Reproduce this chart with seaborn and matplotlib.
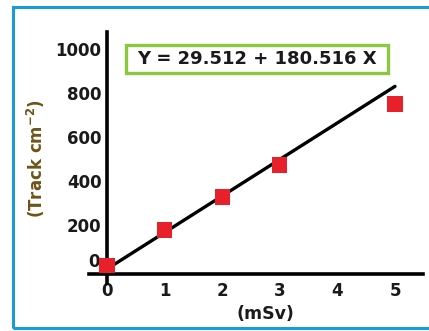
import matplotlib
matplotlib.use("Agg")
import matplotlib.pyplot as plt
import matplotlib.transforms as mtransforms
import seaborn as sns
import pandas as pd
from matplotlib.patches import Rectangle

# data
dose = [0, 1, 2, 3, 5]
tracks = [15, 177, 327, 473, 750]
line_x = [0, 5]
line_y = [0, 830]
yticks = [0, 200, 400, 600, 800, 1000]
xticks = [0, 1, 2, 3, 4, 5]
equation = "Y = 29.512 + 180.516 X"

sns.set_theme(style="white")
plt.rcParams['font.family'] = ['DejaVu Sans']

W, H = 429, 331
fig = plt.figure(figsize=(W / 100, H / 100), dpi=100)
fig.patch.set_facecolor("white")

# blue frame (right side lies outside the picture)
fig.patches.append(Rectangle((13 / W, 3 / H), 1.5, (H - 10) / H, transform=fig.transFigure,
                             fill=False, edgecolor="#1b9ad8", linewidth=2.2))

ax = fig.add_axes([89 / W, (H - 283) / H, (423 - 89) / W, (283 - 32) / H])
ax.set_facecolor("none")

pts = pd.DataFrame({"dose": dose, "tracks": tracks})
fit = pd.DataFrame({"x": line_x, "y": line_y})
sns.lineplot(data=fit, x="x", y="y", ax=ax, color="black", linewidth=2.4)
sns.scatterplot(data=pts, x="dose", y="tracks", ax=ax, marker="s", s=120,
                color="#e8202a", edgecolor="none", zorder=5, clip_on=False)

ax.set_xlim(-0.3125, 5.486)
ax.set_ylim(-63.6, 1077)
for s in ["top", "right"]:
    ax.spines[s].set_visible(False)
ax.spines["left"].set_position(("data", 0))
ax.spines["bottom"].set_position(("data", -22.7))
for s in ["left", "bottom"]:
    ax.spines[s].set_linewidth(2.6)
    ax.spines[s].set_color("black")

ax.set_xticks(xticks)
ax.set_yticks(yticks)
ax.set_xticklabels([str(v) for v in xticks], fontsize=12, fontweight="bold", color="#1a1a1a")
ax.set_yticklabels([str(v) for v in yticks], fontsize=12, fontweight="bold", color="#1a1a1a")
ax.tick_params(axis="x", length=0, pad=6)
ax.tick_params(axis="y", length=0, pad=4)
# the "0" label sits a little above its tick in the reference
zero_lbl = ax.get_yticklabels()[0]
zero_lbl.set_transform(zero_lbl.get_transform() +
                       mtransforms.ScaledTranslation(-2 / 100, 9 / 100, fig.dpi_scale_trans))

ax.set_xlabel("(mSv)", fontsize=12.5, fontweight="bold", color="#1a1a1a")
ax.xaxis.set_label_coords(0.527, -0.086)
ax.set_ylabel("(Track cm$^{\\mathbf{-2}}$)", fontsize=12, fontweight="bold", color="#6e5418")
ax.yaxis.set_label_coords(-0.125, 0.494)

ax.add_patch(Rectangle((0.111, 0.837), 0.895 - 0.111, 0.948 - 0.837, transform=ax.transAxes,
                       facecolor="white", edgecolor="#8dc63f", linewidth=2.4, zorder=6,
                       clip_on=False))
ax.text(0.503, 0.892, equation, transform=ax.transAxes, ha="center", va="center",
        fontsize=13, fontweight="bold", color="#1a1a1a", zorder=7)

fig.savefig("out.png", dpi=100, facecolor="white")
